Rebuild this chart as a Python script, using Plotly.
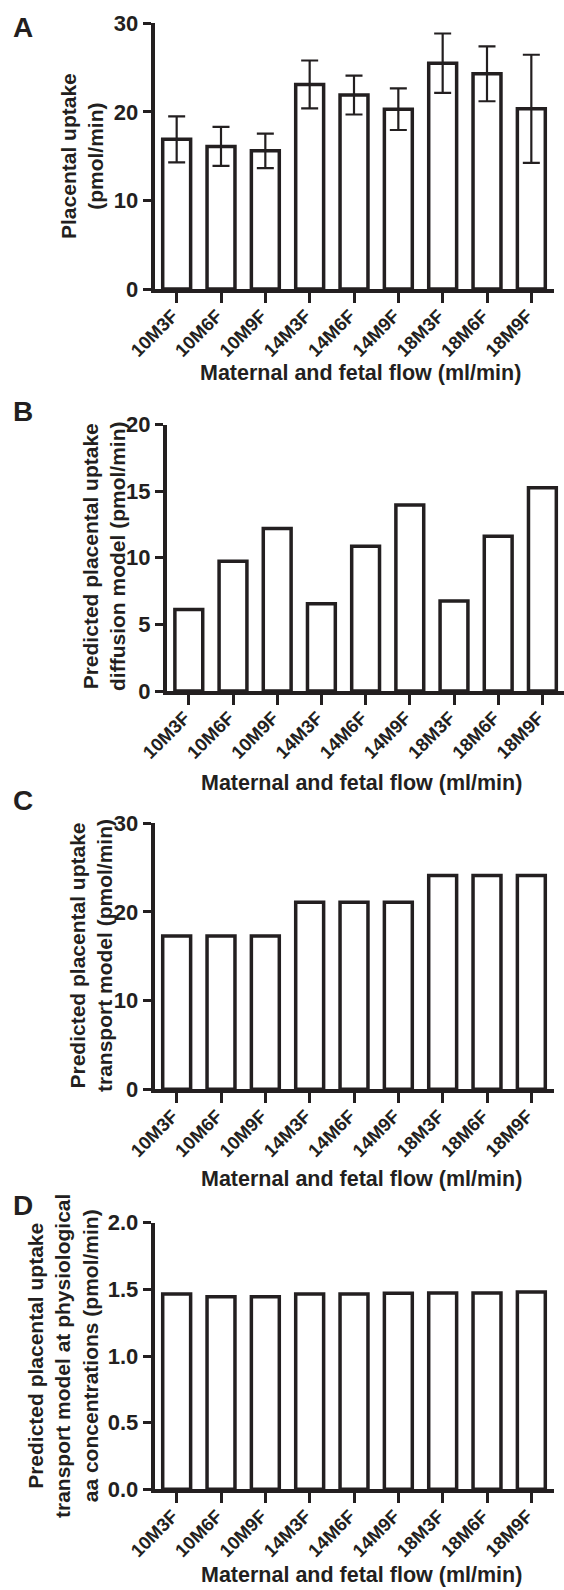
import plotly.graph_objects as go

W, H = 564, 1590

categories = ["10M3F", "10M6F", "10M9F", "14M3F", "14M6F", "14M9F", "18M3F", "18M6F", "18M9F"]

uptake_measured = [16.9, 16.1, 15.6, 23.1, 21.9, 20.3, 25.5, 24.3, 20.35]
uptake_measured_err = [2.6, 2.2, 1.95, 2.7, 2.2, 2.35, 3.35, 3.1, 6.1]
uptake_diffusion = [6.12, 9.74, 12.19, 6.54, 10.86, 13.96, 6.76, 11.61, 15.26]
uptake_transport = [17.3, 17.3, 17.3, 21.1, 21.1, 21.1, 24.1, 24.1, 24.1]
uptake_physiological = [1.465, 1.445, 1.445, 1.465, 1.465, 1.47, 1.472, 1.472, 1.48]

x_title = "Maternal and fetal flow (ml/min)"
y_titles = [
    "Placental uptake<br>(pmol/min)",
    "Predicted placental uptake<br>diffusion model (pmol/min)",
    "Predicted placental uptake<br>transport model (pmol/min)",
    "Predicted placental uptake<br>transport model at physiological<br>aa concentrations (pmol/min)",
]
panel_letters = ["A", "B", "C", "D"]
y_ranges = [[0, 30], [0, 20], [0, 30], [0, 2.0]]
y_dticks = [10, 5, 10, 0.5]

INK = "#231f20"
FONT = "Liberation Sans, Arial, sans-serif"

def px(x):
    return x / W

def py(y):
    return 1 - y / H

# panel geometry in pixels: (x_left, x_right, y_top, y_bottom)
geo = [
    (154.5, 553.5, 23.3, 289.0),
    (166.7, 564.5, 424.5, 691.0),
    (154.5, 553.5, 823.3, 1089.3),
    (154.5, 553.5, 1222.7, 1489.3),
]
ytitle_pos = [(82, 156), (104, 557), (91, 956), (63, 1356)]
xtitle_pos = [(360, 373), (361, 783), (361, 1179), (361, 1575)]
letter_pos = [(11, 28), (11, 412), (11, 800), (11, 1205)]

series = [uptake_measured, uptake_diffusion, uptake_transport, uptake_physiological]

fig = go.Figure()
for i, vals in enumerate(series):
    sfx = "" if i == 0 else str(i + 1)
    kw = dict(
        x=categories, y=vals, width=0.63,
        marker=dict(color="white", line=dict(color=INK, width=3.5)),
        xaxis="x" + sfx, yaxis="y" + sfx, showlegend=False, hoverinfo="skip",
    )
    if i == 0:
        kw["error_y"] = dict(type="data", array=uptake_measured_err, visible=True,
                             color=INK, thickness=2.2, width=8.5)
    fig.add_trace(go.Bar(**kw))

layout = dict(
    width=W, height=H, autosize=False,
    margin=dict(l=0, r=0, t=0, b=0, pad=0, autoexpand=False),
    paper_bgcolor="white", plot_bgcolor="white",
    font=dict(family=FONT, color=INK, size=21, weight="bold"),
    annotations=[],
)

for i in range(4):
    sfx = "" if i == 0 else str(i + 1)
    xl, xr, yt, yb = geo[i]
    layout["xaxis" + sfx] = dict(
        domain=[px(xl), min(1.0, px(xr))],
        anchor="y" + sfx,
        type="category", categoryorder="array", categoryarray=categories,
        range=[-0.5, 8.5 if xr <= W else 8.5 - (xr - W) / ((xr - xl) / 9)],
        showline=True, linecolor=INK, linewidth=3.5,
        ticks="outside", ticklen=10, tickwidth=3, tickcolor=INK,
        tickangle=-45, ticklabelstandoff=-5, ticklabelshift=-4,
        showgrid=False, zeroline=False, automargin=False,
        tickfont=dict(family=FONT, size=18.5, color=INK, weight="bold"),
        fixedrange=True,
    )
    layout["yaxis" + sfx] = dict(
        domain=[py(yb), py(yt)],
        anchor="x" + sfx,
        range=y_ranges[i], dtick=y_dticks[i], tick0=0,
        tickformat=".1f" if i == 3 else "d",
        showline=True, linecolor=INK, linewidth=3.5,
        ticks="outside", ticklen=8, tickwidth=3, tickcolor=INK,
        showgrid=False, zeroline=False, automargin=False,
        tickfont=dict(family=FONT, size=22, color=INK, weight="bold"),
        fixedrange=True,
    )
    layout["annotations"].append(dict(
        text=y_titles[i], xref="paper", yref="paper",
        x=px(ytitle_pos[i][0]), y=py(ytitle_pos[i][1]),
        xanchor="center", yanchor="middle", textangle=-90, showarrow=False,
        font=dict(family=FONT, size=21, color=INK, weight="bold"),
    ))
    layout["annotations"].append(dict(
        text=x_title, xref="paper", yref="paper",
        x=px(xtitle_pos[i][0]), y=py(xtitle_pos[i][1]),
        xanchor="center", yanchor="middle", showarrow=False,
        font=dict(family=FONT, size=21.5, color=INK, weight="bold"),
    ))
    layout["annotations"].append(dict(
        text=panel_letters[i], xref="paper", yref="paper",
        x=px(letter_pos[i][0]), y=py(letter_pos[i][1]),
        xanchor="left", yanchor="middle", showarrow=False,
        font=dict(family=FONT, size=28, color=INK, weight="bold"),
    ))

fig.update_layout(**layout)
fig.write_html("out.html")
